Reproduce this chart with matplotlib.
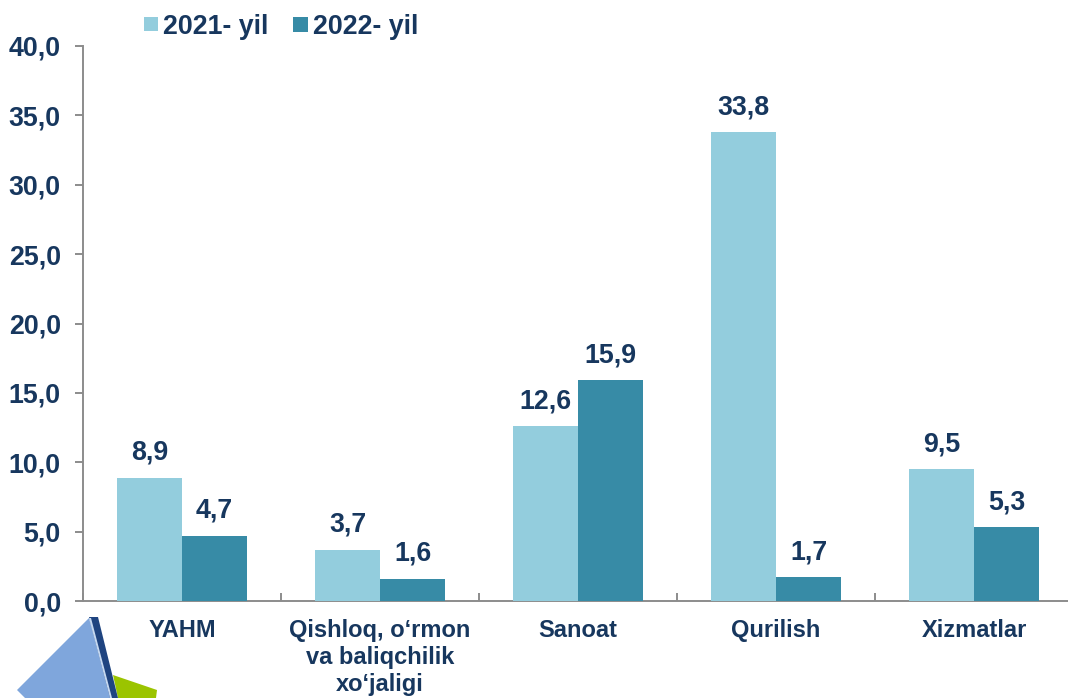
import numpy as np
import matplotlib
matplotlib.use('Agg')
import matplotlib.pyplot as plt
from matplotlib.patches import Polygon, Rectangle

# --- data ---
categories = ["YAHM", "Qishloq, o‘rmon\nva baliqchilik\nxo‘jaligi", "Sanoat", "Qurilish", "Xizmatlar"]
values_2021 = [8.9, 3.7, 12.6, 33.8, 9.5]
values_2022 = [4.7, 1.6, 15.9, 1.7, 5.3]
series_names = ["2021- yil", "2022- yil"]
y_ticks = [0, 5, 10, 15, 20, 25, 30, 35, 40]

W, H = 1068, 698
TEXT = '#17375E'
LIGHT = '#93CDDD'
DARK = '#378BA6'
AXIS = '#8C8C8C'
FS = 19.3

plt.rcParams['font.family'] = ['Liberation Sans', 'DejaVu Sans']

fig = plt.figure(figsize=(W / 100, H / 100), dpi=100)

# axis runs a little past the right edge of the picture, like the original
left, right, top, bottom = 83, 1073, 46, 601
ax = fig.add_axes([left / W, 1 - bottom / H, (right - left) / W, (bottom - top) / H])
ax.patch.set_alpha(0)

x = np.arange(len(categories)) + 0.5
width = 65 / 198
bars1 = ax.bar(x - width / 2, values_2021, width, color=LIGHT, zorder=3)
bars2 = ax.bar(x + width / 2, values_2022, width, color=DARK, zorder=3)

for bars in (bars1, bars2):
    for b in bars:
        ax.annotate(f"{b.get_height():.1f}".replace('.', ','),
                    (b.get_x() + b.get_width() / 2, b.get_height()),
                    xytext=(0, 12), textcoords='offset pixels', ha='center', va='bottom',
                    fontsize=FS, fontweight='bold', color=TEXT, zorder=5)

ax.set_xlim(0, 5)
ax.set_ylim(0, 40)
ax.set_yticks(y_ticks)
ax.set_yticklabels([f"{v:.1f}".replace('.', ',') for v in y_ticks],
                   fontsize=FS, fontweight='bold', color=TEXT)
ax.set_xticks(np.arange(0, 6))
ax.set_xticklabels([])
ax.tick_params(axis='y', length=6, width=1.4, color=AXIS, pad=10)
ax.tick_params(axis='x', length=6, width=1.4, color=AXIS, direction='in')
ax.spines['top'].set_visible(False)
ax.spines['right'].set_visible(False)
for s in ('left', 'bottom'):
    ax.spines[s].set_color(AXIS)
    ax.spines[s].set_linewidth(1.4)

# category labels sit in figure pixels so the line spacing can be set
for xc, name in zip(x, categories):
    px = left + xc * 198
    fig.text(px / W, 1 - 619 / H, name, ha='center', va='top', fontsize=17,
             fontweight='bold', color=TEXT, linespacing=1.22)

# legend
def px_rect(x0, y0, w, h, color):
    fig.add_artist(Rectangle((x0 / W, 1 - (y0 + h) / H), w / W, h / H,
                             transform=fig.transFigure, color=color, lw=0))

px_rect(144, 17, 14, 14, LIGHT)
px_rect(293, 17, 15, 15, DARK)
fig.text(163 / W, 1 - 27 / H, series_names[0], ha='left', va='center', fontsize=FS,
         fontweight='bold', color=TEXT)
fig.text(313 / W, 1 - 27 / H, series_names[1], ha='left', va='center', fontsize=FS,
         fontweight='bold', color=TEXT)

# --- logo in the bottom left corner ---
def px_poly(points, color):
    pts = [(px / W, 1 - py / H) for px, py in points]
    fig.add_artist(Polygon(pts, closed=True, transform=fig.transFigure, color=color, lw=0))

px_poly([(113, 675), (157, 690), (156, 698), (118, 698)], '#9BC400')
px_poly([(17, 690), (89, 618), (112, 698), (25, 698)], '#7FA6DC')
px_poly([(89, 617), (98, 617), (118, 698), (110, 698)], '#1F4480')
px_poly([(89, 618), (91, 618), (112, 698), (110, 698)], '#C5D8F0')

fig.savefig('out.png', dpi=100)
